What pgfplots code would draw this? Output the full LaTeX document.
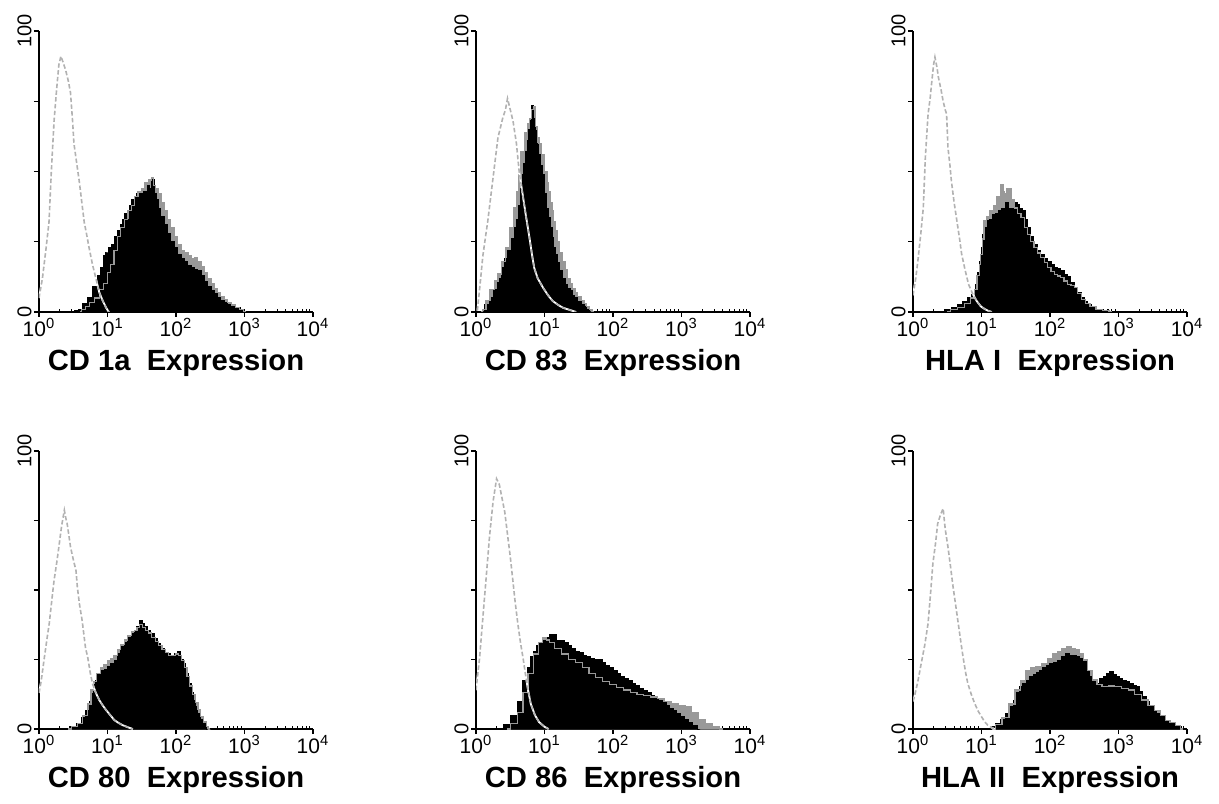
\documentclass[border=0pt]{standalone}
\usepackage{pgfplots}
\pgfplotsset{compat=1.18}
\usepackage{fontspec}
\setmainfont{Liberation Sans}
\definecolor{isogray}{gray}{0.70}
\definecolor{histgray}{gray}{0.60}
\newcommand{\tl}[1]{10\textsuperscript{#1}}
\pgfplotsset{
  facs/.style={
    scale only axis, width=137pt, height=140.5pt,
    anchor=south west,
    xmin=0, xmax=4, ymin=0, ymax=100,
    axis lines*=left,
    axis line style={line width=0.8pt, black},
    xtick={0,1,2,3,4},
    xticklabels={{\tl{0}},{\tl{1}},{\tl{2}},{\tl{3}},{\tl{4}}},
    minor xtick={0.301,0.477,0.602,0.699,0.778,0.845,0.903,0.954,
                 1.301,1.477,1.602,1.699,1.778,1.845,1.903,1.954,
                 2.301,2.477,2.602,2.699,2.778,2.845,2.903,2.954,
                 3.301,3.477,3.602,3.699,3.778,3.845,3.903,3.954},
    ytick={0,25,50,75,100},
    yticklabels={0,{},{},{},100},
    tick align=outside,
    major tick length=2.5pt, minor tick length=1.5pt,
    every tick/.style={black, line width=0.6pt},
    minor x tick style={yshift=1.5pt},
    xticklabel style={font=\fontsize{10.5}{11}\selectfont, inner sep=0.5pt},
    yticklabel style={font=\fontsize{10}{11}\selectfont, rotate=90, anchor=south, inner sep=1pt},
    every axis x label/.style={at={(axis description cs:0.5,0)}, anchor=center, yshift=-25.5pt,
      font=\fontsize{14.6}{16}\selectfont\bfseries},
  },
  isowhite/.style={draw=white, line width=0.9pt, sharp plot},
  iso/.style={draw=isogray, line width=0.8pt, dash pattern=on 2.2pt off 1.2pt, sharp plot},
  fillB/.style={fill=histgray, draw=histgray, line width=0.5pt, const plot mark mid},
  fillA/.style={fill=black, draw=black, line width=0.5pt, const plot mark mid},
  lineB/.style={draw=histgray, line width=0.6pt, const plot mark mid},
}
\begin{document}
\begin{tikzpicture}
\path[use as bounding box] (0,0) rectangle (609.5pt,401.5pt);

% ---------------- Panel 1: CD 1a ----------------
\pgfplotstableread{
x y
0.5 0
0.54 0.5
0.6 1
0.68 3
0.75 5
0.82 9
0.88 13
0.92 16
0.95 20
1.0 21
1.04 23
1.07 24
1.12 27
1.17 29
1.2 31
1.24 33
1.27 35
1.3 33
1.33 38
1.37 40
1.41 41
1.44 42
1.5 42
1.56 43
1.6 45
1.63 44
1.66 47
1.7 42
1.73 40
1.76 37
1.8 34
1.85 31
1.9 28
1.95 25
2.0 23
2.05 20.6
2.1 19
2.15 18
2.2 16.5
2.24 15.8
2.29 15
2.34 14.6
2.39 13
2.44 11
2.49 9
2.54 7.5
2.58 6.5
2.63 5
2.68 4
2.73 3.3
2.78 2.5
2.83 2
2.9 1.5
2.98 1
3.02 0
}\PAa
\pgfplotstableread{
x y
0.6 0
0.65 1
0.7 2
0.78 3.5
0.85 5
0.92 8
0.97 10
1.02 14
1.07 17
1.12 22
1.17 27
1.22 30
1.27 33
1.32 36
1.37 38
1.42 41
1.47 43
1.52 44
1.57 46
1.62 47
1.66 48
1.69 45
1.72 44
1.76 42
1.8 39
1.85 36
1.9 33
1.95 30
2.0 27
2.05 24
2.1 22
2.15 21
2.2 20
2.24 19
2.29 19.5
2.34 18
2.39 16
2.44 14
2.49 12
2.54 10
2.58 8.5
2.63 7
2.68 5.5
2.73 4.5
2.78 3.5
2.83 2.5
2.9 1.5
2.95 1
3.02 0
}\PAb
\pgfplotstableread{
x y
0 5
0.05 12
0.1 22
0.146 32
0.18 50
0.22 68
0.26 80
0.29 88
0.32 91
0.35 89
0.39 86
0.43 82
0.46 78
0.49 68
0.51 60
0.55 53
0.585 47
0.62 40
0.66 32
0.7 27
0.73 23
0.78 17
0.83 12
0.88 7
0.93 4
0.98 1.5
1.02 0
}\PAi
\begin{axis}[facs, at={(19.5pt,245.5pt)}, xlabel={CD 1a\ \ Expression}]
\addplot[fillB] table {\PAb} \closedcycle;
\addplot[fillA] table {\PAa} \closedcycle;
\addplot[lineB] table {\PAb};
\addplot[isowhite] table {\PAi};
\addplot[iso] table {\PAi};
\end{axis}

% ---------------- Panel 2: CD 83 ----------------
\pgfplotstableread{
x y
0.1 0
0.16 2.5
0.22 5
0.28 8
0.34 12
0.39 16
0.44 19
0.49 22
0.54 26
0.58 30
0.61 33
0.64 38
0.66 44
0.69 49
0.71 53
0.74 57
0.76 61
0.78 65
0.8 68
0.83 73.5
0.85 69
0.88 64.6
0.9 60
0.93 56
0.96 52
0.98 49
1.02 42
1.05 37
1.07 33.7
1.1 30
1.12 26.5
1.15 23
1.17 20.6
1.2 17.5
1.24 14.6
1.28 12
1.32 9.9
1.36 8.5
1.39 7.5
1.43 6
1.46 5
1.51 3.8
1.56 2.7
1.6 1.8
1.63 1
1.68 0
}\PBa
\pgfplotstableread{
x y
0.08 0
0.12 1
0.17 4
0.24 8
0.3 11
0.34 13.5
0.4 18
0.46 23
0.52 30
0.58 37
0.61 43
0.63 49
0.68 57
0.73 64
0.77 67
0.8 69
0.83 72
0.85 73
0.88 66
0.91 62
0.93 60
0.98 56
1.02 50
1.05 46
1.07 43
1.1 39
1.12 36
1.15 32
1.17 29
1.2 25
1.24 21
1.28 18
1.32 15
1.36 12
1.39 10
1.43 8.5
1.46 7
1.51 5.5
1.56 4
1.6 3
1.63 2
1.68 1
1.72 0
}\PBb
\pgfplotstableread{
x y
0.02 0.5
0.06 10
0.1 20
0.14 27
0.17 32
0.2 38
0.22 42
0.25 48
0.27 52
0.3 58
0.32 62
0.36 66
0.39 69
0.43 72
0.46 76
0.5 72
0.54 68
0.59 60
0.63 50
0.68 42
0.73 34
0.78 26.5
0.82 20
0.85 15.7
0.9 12
0.98 8.6
1.05 6
1.12 3.9
1.2 2.5
1.27 1.5
1.36 0.8
1.46 0
}\PBi
\begin{axis}[facs, at={(238pt,245.5pt)}, xlabel={CD 83\ \ Expression}]
\addplot[fillB] table {\PBb} \closedcycle;
\addplot[fillA] table {\PBa} \closedcycle;
\addplot[lineB] table {\PBb};
\addplot[isowhite] table {\PBi};
\addplot[iso] table {\PBi};
\end{axis}

% ---------------- Panel 3: HLA I ----------------
\pgfplotstableread{
x y
0.42 0
0.5 0.8
0.61 1.5
0.68 2.5
0.76 3.9
0.82 5
0.88 6.3
0.93 9.9
0.96 14
0.98 18
1.01 23
1.03 27.7
1.07 30
1.1 32.5
1.14 33
1.18 34.8
1.22 35
1.27 36
1.32 37
1.37 39
1.41 37
1.45 37
1.5 39
1.54 38.4
1.58 37
1.62 36
1.66 33
1.69 30
1.74 27
1.79 24
1.84 22
1.89 20.6
1.94 19
1.99 18
2.04 17
2.08 15.8
2.13 15.5
2.18 14.6
2.23 13.5
2.28 12.8
2.33 10.5
2.38 8.7
2.43 7
2.48 5
2.52 3.8
2.57 2.7
2.65 1.8
2.72 1
2.82 0.5
2.92 0
}\PCa
\pgfplotstableread{
x y
0.5 0
0.6 0.8
0.7 1.5
0.8 3
0.88 5
0.92 8
0.95 13
0.98 17
1.0 20.6
1.02 26
1.05 32.5
1.1 34
1.15 36
1.2 38
1.25 41
1.3 45.5
1.33 43
1.35 42
1.38 44
1.42 44
1.46 40
1.5 37
1.55 35
1.6 33.7
1.65 30
1.69 27.7
1.74 25
1.79 23
1.84 21
1.89 19.4
1.94 17.5
1.99 15.8
2.04 14.5
2.08 13.4
2.13 12.8
2.18 12.2
2.23 11
2.28 9.9
2.33 9.3
2.38 8.7
2.43 6.5
2.48 4.5
2.55 3
2.62 2
2.72 1
2.82 0.4
2.9 0
}\PCb
\pgfplotstableread{
x y
0 6
0.04 12
0.07 18
0.11 27
0.15 37
0.18 55
0.22 70.5
0.25 76
0.27 81
0.3 88
0.32 90.7
0.35 87
0.37 83.6
0.41 79
0.44 75
0.47 72
0.49 70.5
0.51 58.6
0.54 52
0.56 46.7
0.6 39
0.64 32.5
0.68 26
0.71 20.6
0.76 15
0.81 9.9
0.87 6.5
0.93 3.9
0.99 2
1.05 1
1.1 0.4
1.15 0
}\PCi
\begin{axis}[facs, at={(456.5pt,245.5pt)}, xlabel={HLA I\ \ Expression}]
\addplot[fillB] table {\PCb} \closedcycle;
\addplot[fillA] table {\PCa} \closedcycle;
\addplot[lineB] table {\PCb};
\addplot[isowhite] table {\PCi};
\addplot[iso] table {\PCi};
\end{axis}

% ---------------- Panel 4: CD 80 ----------------
\pgfplotstableread{
x y
0.39 0
0.5 0.8
0.59 2
0.65 4
0.71 6.8
0.75 10
0.78 12.8
0.81 16
0.83 17.6
0.88 19.5
0.93 21
0.98 21.5
1.02 22.4
1.07 23.5
1.12 24.8
1.17 27
1.22 29.6
1.27 31
1.32 33
1.37 34.5
1.41 35.6
1.45 37
1.49 39
1.52 38
1.56 36.8
1.61 35.5
1.66 34.4
1.71 32.5
1.76 30.8
1.8 29
1.85 27.2
1.9 27
1.95 26
2.0 27
2.05 27.8
2.09 25
2.12 23.6
2.16 20
2.2 16.4
2.24 13
2.27 10.4
2.3 8
2.34 5.6
2.38 3.5
2.41 2
2.44 1
2.46 0
}\PDa
\pgfplotstableread{
x y
0.42 0
0.52 0.8
0.6 2
0.68 5
0.74 9
0.78 14
0.82 17
0.87 20
0.92 22
0.97 23
1.02 24.5
1.07 25.5
1.12 26.5
1.17 28.5
1.22 30.5
1.27 32
1.32 33.5
1.37 35
1.41 35.5
1.45 36.5
1.49 37.5
1.53 36.5
1.57 35.5
1.62 34.5
1.67 33
1.72 31.5
1.77 30
1.82 28.5
1.87 27.5
1.92 26.5
1.97 26.5
2.02 27
2.06 26.5
2.1 24.5
2.14 22
2.18 19
2.22 15.5
2.26 12.5
2.3 9.5
2.34 7
2.38 4.5
2.42 2.5
2.46 1
2.5 0
}\PDb
\pgfplotstableread{
x y
0 13
0.03 17
0.08 26
0.12 33
0.15 38
0.19 47
0.22 53.5
0.26 60
0.29 65.5
0.33 73
0.37 78.7
0.39 76
0.41 74
0.44 69
0.46 65.5
0.5 61
0.54 57
0.56 51
0.59 45
0.63 39
0.66 33
0.68 29
0.71 26
0.75 20
0.78 16.4
0.83 13
0.88 10.4
0.93 8.5
0.98 6.8
1.04 5
1.1 3.2
1.16 2.2
1.22 1.4
1.3 0.6
1.37 0
}\PDi
\begin{axis}[facs, at={(19.5pt,37pt)}, height=139pt, xlabel={CD 80\ \ Expression}]
\addplot[fillB] table {\PDb} \closedcycle;
\addplot[fillA] table {\PDa} \closedcycle;
\addplot[lineB] table {\PDb};
\addplot[isowhite] table {\PDi};
\addplot[iso] table {\PDi};
\end{axis}

% ---------------- Panel 5: CD 86 ----------------
\pgfplotstableread{
x y
0.35 0
0.45 1.5
0.57 5
0.65 10
0.72 17.6
0.78 22
0.82 26
0.86 28
0.9 30
0.95 31
1.0 32
1.05 33
1.1 34
1.15 34
1.2 32
1.26 32
1.32 31
1.37 30
1.43 29
1.48 28
1.54 27.5
1.59 26.6
1.65 26
1.7 25.5
1.76 25
1.81 25
1.87 24
1.92 23
1.98 22
2.03 21
2.09 20
2.14 19
2.2 18
2.25 17.6
2.31 16.5
2.36 15.5
2.42 14.5
2.47 14
2.53 13
2.58 12
2.64 11
2.69 10.4
2.75 9.5
2.8 8.5
2.86 7.5
2.9 6.8
2.96 5.5
3.01 4.5
3.07 3.5
3.12 2.5
3.2 1.2
3.27 0
}\PEa
\pgfplotstableread{
x y
0.45 0
0.55 2
0.65 6
0.72 13
0.8 20
0.88 27
0.95 31
1.0 33
1.05 32
1.1 31
1.2 29
1.3 27
1.4 25
1.5 24
1.6 22
1.7 20
1.8 18.5
1.9 17
2.0 16
2.1 15
2.2 14
2.3 13
2.4 12.5
2.5 12
2.6 11.5
2.7 11
2.8 10
2.9 9
3.0 8.5
3.1 8
3.2 6
3.3 3.5
3.4 2
3.5 1
3.6 0
}\PEb
\pgfplotstableread{
x y
0 14
0.05 25
0.1 40
0.15 55
0.2 70
0.25 82
0.3 90
0.34 88
0.38 83
0.42 78
0.46 70
0.5 62
0.54 53
0.57 46
0.61 38
0.65 31
0.69 25
0.72 20
0.76 14
0.8 9
0.86 5
0.92 2.5
1.0 0.8
1.06 0
}\PEi
\begin{axis}[facs, at={(238pt,37pt)}, height=139pt, xlabel={CD 86\ \ Expression}]
\addplot[fillB] table {\PEb} \closedcycle;
\addplot[fillA] table {\PEa} \closedcycle;
\addplot[lineB] table {\PEb};
\addplot[isowhite] table {\PEi};
\addplot[iso] table {\PEi};
\end{axis}

% ---------------- Panel 6: HLA II ----------------
\pgfplotstableread{
x y
1.09 0
1.17 1
1.24 2
1.32 3.5
1.39 5.6
1.44 8
1.48 10.4
1.53 13
1.58 15.2
1.63 16.5
1.68 17.5
1.73 18.8
1.78 19.5
1.82 20.5
1.87 21.2
1.92 22
1.97 23
2.02 23.6
2.07 24
2.14 24.8
2.19 26
2.26 27.2
2.31 26.5
2.36 26.5
2.41 26
2.46 25.5
2.51 24.8
2.55 21
2.6 18.8
2.65 17
2.7 16.4
2.75 18
2.8 18.8
2.85 20
2.9 20.6
2.94 19.5
2.99 18.8
3.04 18
3.09 17.6
3.14 17
3.19 16.4
3.24 15.8
3.28 15.2
3.33 13.5
3.38 11.6
3.43 10
3.48 8
3.53 6.5
3.58 5.5
3.63 4.4
3.7 3
3.77 2
3.87 0.8
3.97 0
}\PFa
\pgfplotstableread{
x y
1.15 0
1.25 1.5
1.35 4
1.45 9
1.53 14
1.6 17.5
1.68 21
1.75 22
1.82 22.5
1.92 23.6
2.0 25.5
2.07 27
2.14 28
2.21 29
2.28 29.5
2.34 29
2.41 28.4
2.46 27
2.51 24.8
2.58 21
2.65 17.6
2.72 16
2.8 15.2
2.9 15.5
2.99 15.2
3.09 14.5
3.19 14
3.28 12.5
3.38 10.4
3.48 8.5
3.58 6.8
3.65 5
3.72 3.2
3.8 2.2
3.87 1.4
3.94 0
}\PFb
\pgfplotstableread{
x y
0 10
0.02 11.6
0.07 17
0.12 23.6
0.17 30
0.22 38
0.26 50
0.29 59.5
0.33 67
0.36 73.9
0.4 77
0.44 79.3
0.47 72
0.51 65.5
0.55 58
0.58 52
0.62 45
0.66 38
0.7 31
0.73 26
0.77 20
0.8 16.4
0.85 12.5
0.9 9.2
0.95 6.5
1.0 4.4
1.05 2.5
1.09 1.4
1.14 0.6
1.19 0
}\PFi
\begin{axis}[facs, at={(456.5pt,37pt)}, height=139pt, xlabel={HLA II\ \ Expression}]
\addplot[fillB] table {\PFb} \closedcycle;
\addplot[fillA] table {\PFa} \closedcycle;
\addplot[lineB] table {\PFb};
\addplot[isowhite] table {\PFi};
\addplot[iso] table {\PFi};
\end{axis}
\end{tikzpicture}
\end{document}
